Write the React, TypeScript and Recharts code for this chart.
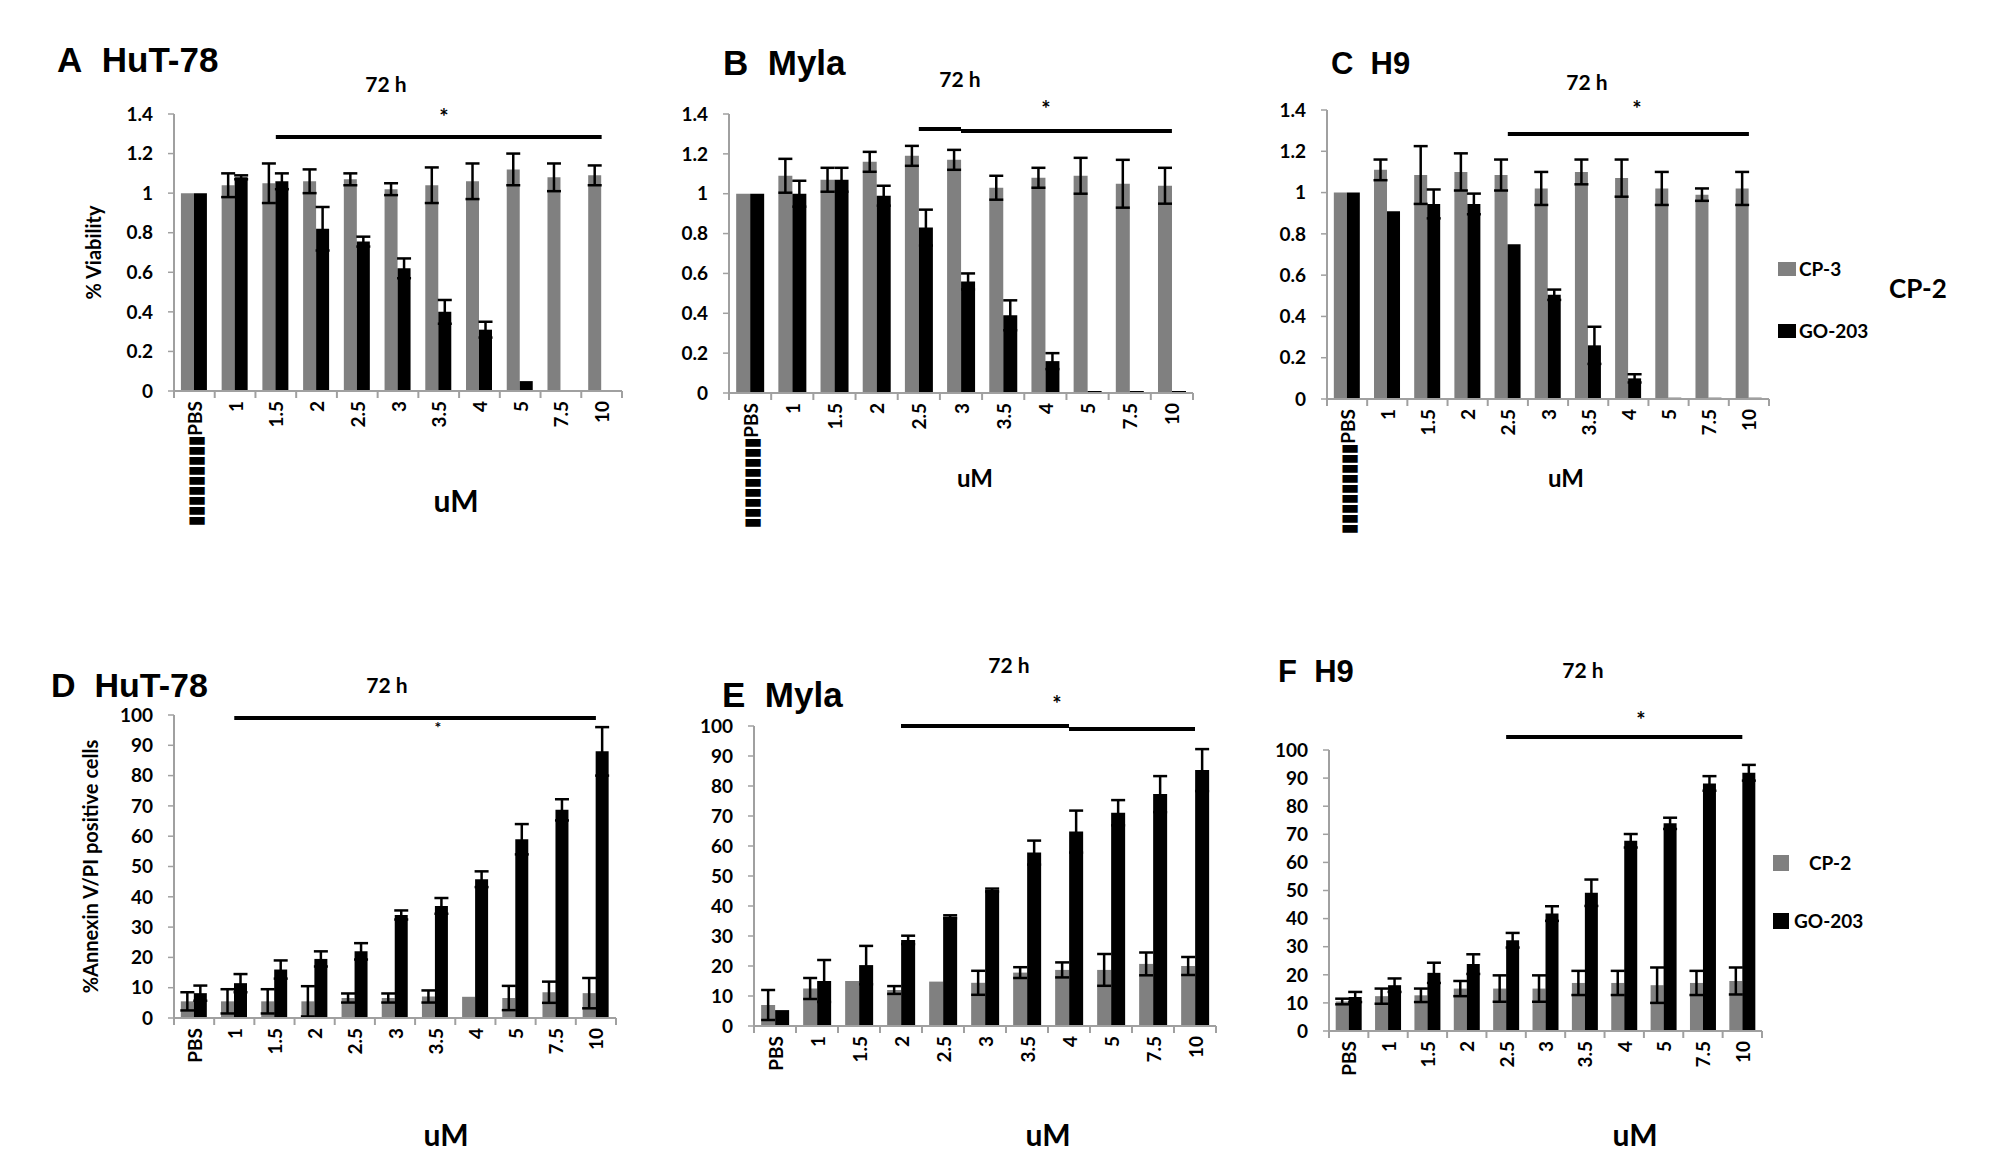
import { BarChart, Bar, XAxis, YAxis, ErrorBar, ReferenceLine, Legend } from 'recharts';

const doses = ['PBS', '1', '1.5', '2', '2.5', '3', '3.5', '4', '5', '7.5', '10'];
const viabilityTicks = [0, 0.2, 0.4, 0.6, 0.8, 1, 1.2, 1.4];
const annexinTicks = [0, 10, 20, 30, 40, 50, 60, 70, 80, 90, 100];

// A  HuT-78 viability
const hutCp = [1.0, 1.04, 1.05, 1.06, 1.07, 1.02, 1.04, 1.06, 1.12, 1.08, 1.09];
const hutCpErr = [null, 0.06, 0.1, 0.06, 0.03, 0.03, 0.09, 0.09, 0.08, 0.07, 0.05];
const hutGo = [1.0, 1.08, 1.06, 0.82, 0.755, 0.62, 0.4, 0.31, 0.05, 0, 0];
const hutGoErr = [null, 0.01, 0.04, 0.11, 0.025, 0.05, 0.06, 0.04, null, null, null];

// B  Myla viability
const mylaCp = [1.0, 1.09, 1.07, 1.16, 1.19, 1.17, 1.03, 1.08, 1.09, 1.05, 1.04];
const mylaCpErr = [null, 0.085, 0.06, 0.05, 0.05, 0.05, 0.06, 0.05, 0.09, 0.12, 0.09];
const mylaGo = [1.0, 1.0, 1.07, 0.99, 0.83, 0.56, 0.39, 0.16, 0.01, 0.01, 0.01];
const mylaGoErr = [null, 0.065, 0.06, 0.05, 0.09, 0.04, 0.075, 0.04, null, null, null];

// C  H9 viability
const h9Cp = [1.0, 1.11, 1.085, 1.1, 1.085, 1.02, 1.1, 1.07, 1.02, 0.99, 1.02];
const h9CpErr = [null, 0.05, 0.14, 0.09, 0.075, 0.08, 0.06, 0.09, 0.08, 0.03, 0.08];
const h9Go = [1.0, 0.91, 0.945, 0.945, 0.75, 0.505, 0.26, 0.1, 0.006, 0.006, 0.006];
const h9GoErr = [null, null, 0.07, 0.05, null, 0.025, 0.09, 0.02, null, null, null];

// D  HuT-78 annexin
const apoHutCp = [5.5, 5.5, 5.5, 5.5, 6.6, 6.6, 7.1, 7.0, 6.6, 8.5, 8.2];
const apoHutCpErr = [3, 4, 4, 5, 1.5, 1.5, 2, null, 4, 3.5, 5];
const apoHutGo = [8.2, 11.5, 16, 19.5, 22, 34, 37, 45.8, 59, 68.7, 88];
const apoHutGoErr = [2.5, 3, 3, 2.5, 2.7, 1.5, 2.6, 2.6, 5, 3.5, 8];

// E  Myla annexin
const apoMylaCp = [7, 12.5, 15, 12, 14.8, 14.4, 17.8, 18.7, 18.7, 20.7, 20];
const apoMylaCpErr = [5, 3.5, null, 1.3, null, 4, 1.8, 2.5, 5.3, 3.8, 3];
const apoMylaGo = [5.3, 15, 20.3, 28.7, 36.4, 45.3, 57.8, 64.8, 71.1, 77.3, 85.3];
const apoMylaGoErr = [null, 7, 6.4, 1.4, 0.5, 0.5, 4, 7, 4.2, 6, 7];

// F  H9 annexin
const apoH9Cp = [10.5, 12.4, 12.7, 15.1, 15.1, 15.1, 17.1, 17.1, 16.3, 17.1, 17.8];
const apoH9CpErr = [1, 2.7, 2.4, 2.7, 4.7, 4.7, 4.3, 4.3, 6.3, 4.3, 4.8];
const apoH9Go = [12.1, 16.3, 20.7, 23.8, 32.3, 41.8, 49.2, 67.7, 73.9, 88.1, 91.9];
const apoH9GoErr = [1.8, 2.4, 3.6, 3.5, 2.6, 2.6, 4.7, 2.4, 2, 2.6, 2.8];

const GRAY = '#808080';
const AXIS = '#a0a0a0';
const FONT = 'Lato, "Liberation Sans", sans-serif';
const TITLE_FONT = '"Liberation Sans", Arial, sans-serif';
const TOFU = '\u25AE'.repeat(9);
const YW = 100;
const TOP = 40;
const XH = 150;

function rows(cp, cpErr, go, goErr) {
  return doses.map((d, i) => ({ dose: d, cp: cp[i], cpErr: cpErr[i], go: go[i], goErr: goErr[i] }));
}

const panels = [
  { id: 'A', left: 174, right: 622, top: 114, bottom: 391, max: 1.4, ticks: viabilityTicks,
    data: rows(hutCp, hutCpErr, hutGo, hutGoErr), cpName: 'CP-3', yLabel: '% Viability', labelDx: -30, tofu: true,
    segments: [{ from: '1.5', to: '10', y: 1.284 }] },
  { id: 'B', left: 729, right: 1193, top: 114, bottom: 393, max: 1.4, ticks: viabilityTicks,
    data: rows(mylaCp, mylaCpErr, mylaGo, mylaGoErr), cpName: 'CP-3', tofu: true,
    segments: [{ from: '2.5', to: '3', y: 1.325 }, { from: '3', to: '10', y: 1.315 }] },
  { id: 'C', left: 1327, right: 1769, top: 110, bottom: 399, max: 1.4, ticks: viabilityTicks,
    data: rows(h9Cp, h9CpErr, h9Go, h9GoErr), cpName: 'CP-3', tofu: true,
    segments: [{ from: '2.5', to: '10', y: 1.284 }],
    legend: { left: 551, top: 192, step: 62, sq: [18, 14], gaps: [3, 3] } },
  { id: 'D', left: 174, right: 616, top: 715, bottom: 1018, max: 100, ticks: annexinTicks,
    data: rows(apoHutCp, apoHutCpErr, apoHutGo, apoHutGoErr), cpName: 'CP-2',
    yLabel: '%Annexin V/PI positive cells', labelDx: -33,
    segments: [{ from: '1', to: '10', y: 99 }] },
  { id: 'E', left: 754, right: 1216, top: 726, bottom: 1026, max: 100, ticks: annexinTicks,
    data: rows(apoMylaCp, apoMylaCpErr, apoMylaGo, apoMylaGoErr), cpName: 'CP-2',
    segments: [{ from: '2', to: '4', y: 100 }, { from: '4', to: '10', y: 99 }] },
  { id: 'F', left: 1329, right: 1762, top: 750, bottom: 1031, max: 100, ticks: annexinTicks,
    data: rows(apoH9Cp, apoH9CpErr, apoH9Go, apoH9GoErr), cpName: 'CP-2',
    segments: [{ from: '2.5', to: '10', y: 104.6 }],
    legend: { left: 544, top: 145, step: 58, sq: [16, 16], gaps: [20, 5] } },
];

// free text on the figure: x, cap top, size
const texts = [
  { t: 'A\u00a0\u00a0HuT-78', x: 57, cap: 49, size: 35, title: true },
  { t: '72 h', x: 386, cap: 77, size: 21, mid: true },
  { t: '*', x: 444, cap: 110, size: 22, mid: true },
  { t: 'uM', x: 456, cap: 490, size: 30, mid: true },
  { t: 'B\u00a0\u00a0Myla', x: 723, cap: 52, size: 35, title: true },
  { t: '72 h', x: 960, cap: 72, size: 21, mid: true },
  { t: '*', x: 1046, cap: 102, size: 22, mid: true },
  { t: 'uM', x: 975, cap: 470, size: 24, mid: true },
  { t: 'C\u00a0\u00a0H9', x: 1331, cap: 54, size: 31, title: true },
  { t: '72 h', x: 1587, cap: 75, size: 21, mid: true },
  { t: '*', x: 1637, cap: 102, size: 22, mid: true },
  { t: 'uM', x: 1566, cap: 470, size: 24, mid: true },
  { t: 'CP-2', x: 1889, cap: 279, size: 26 },
  { t: 'D\u00a0\u00a0HuT-78', x: 51, cap: 674, size: 34, title: true },
  { t: '72 h', x: 387, cap: 678, size: 21, mid: true },
  { t: '*', x: 438, cap: 722, size: 16, mid: true },
  { t: 'uM', x: 446, cap: 1124, size: 30, mid: true },
  { t: 'E\u00a0\u00a0Myla', x: 722, cap: 684, size: 35, title: true },
  { t: '72 h', x: 1009, cap: 658, size: 21, mid: true },
  { t: '*', x: 1057, cap: 697, size: 22, mid: true },
  { t: 'uM', x: 1048, cap: 1124, size: 30, mid: true },
  { t: 'F\u00a0\u00a0H9', x: 1278, cap: 662, size: 31, title: true },
  { t: '72 h', x: 1583, cap: 663, size: 21, mid: true },
  { t: '*', x: 1641, cap: 713, size: 22, mid: true },
  { t: 'uM', x: 1635, cap: 1124, size: 30, mid: true },
];

function DoseTick(props) {
  const { x, y, payload, index, bw, tofu } = props;
  const label = index === 0 && tofu ? TOFU + payload.value : payload.value;
  const ty = y + 10;
  return (
    <g>
      <line x1={x - bw / 2} x2={x - bw / 2} y1={y} y2={y + 7} stroke={AXIS} strokeWidth={2} />
      {index === doses.length - 1 && (
        <line x1={x + bw / 2} x2={x + bw / 2} y1={y} y2={y + 7} stroke={AXIS} strokeWidth={2} />
      )}
      <text
        x={x}
        y={ty}
        transform={`rotate(-90 ${x} ${ty})`}
        textAnchor="end"
        dominantBaseline="central"
        fontFamily={FONT}
        fontWeight={700}
        fontSize={19}
        fill="#000"
      >
        {label}
      </text>
    </g>
  );
}

function legendContent(cfg) {
  return ({ payload }) => (
    <div>
      {(payload || []).map((p, i) => (
        <div
          key={p.value}
          style={{ position: 'absolute', left: 0, top: i * cfg.step, display: 'flex', alignItems: 'center', whiteSpace: 'nowrap' }}
        >
          <span style={{ width: cfg.sq[0], height: cfg.sq[1], background: p.color, display: 'inline-block', marginRight: cfg.gaps[i] }} />
          <span style={{ fontFamily: FONT, fontWeight: 700, fontSize: 19, color: '#000', lineHeight: '14px' }}>{p.value}</span>
        </div>
      ))}
    </div>
  );
}

function Panel({ p }) {
  const plotW = p.right - p.left;
  const plotH = p.bottom - p.top;
  const bw = plotW / doses.length;
  const fmt = (v) => String(Number(v.toFixed(1)));
  return (
    <div style={{ position: 'absolute', left: p.left - YW, top: p.top - TOP }}>
      <BarChart
        width={YW + plotW + 10}
        height={TOP + plotH + XH}
        data={p.data}
        margin={{ top: TOP, right: 10, bottom: 0, left: 0 }}
        barCategoryGap="17%"
        barGap={0}
      >
        <XAxis
          dataKey="dose"
          height={XH}
          interval={0}
          tickSize={0}
          tickMargin={0}
          tickLine={false}
          axisLine={{ stroke: AXIS, strokeWidth: 2 }}
          tick={(tp) => <DoseTick {...tp} bw={bw} tofu={p.tofu} />}
        />
        <YAxis
          type="number"
          domain={[0, p.max]}
          ticks={p.ticks}
          interval={0}
          width={YW}
          tickSize={6}
          tickMargin={15}
          tickFormatter={fmt}
          axisLine={{ stroke: AXIS, strokeWidth: 2 }}
          tickLine={{ stroke: AXIS, strokeWidth: 1.5 }}
          tick={{ fill: '#000', fontSize: 19, fontWeight: 700, fontFamily: FONT }}
          label={
            p.yLabel
              ? { value: p.yLabel, angle: -90, position: 'center', dx: p.labelDx, fill: '#000', fontSize: 20, fontWeight: 700, fontFamily: FONT }
              : undefined
          }
        />
        <Bar dataKey="cp" name={p.cpName} fill={GRAY} isAnimationActive={false}>
          <ErrorBar dataKey="cpErr" width={7} stroke="#000" strokeWidth={2.5} direction="y" />
        </Bar>
        <Bar dataKey="go" name="GO-203" fill="#000" isAnimationActive={false}>
          <ErrorBar dataKey="goErr" width={7} stroke="#000" strokeWidth={2.5} direction="y" />
        </Bar>
        {p.segments.map((s, i) => (
          <ReferenceLine
            key={i}
            segment={[{ x: s.from, y: s.y }, { x: s.to, y: s.y }]}
            stroke="#000"
            strokeWidth={4}
            ifOverflow="visible"
          />
        ))}
        {p.legend && (
          <Legend
            layout="vertical"
            align="center"
            verticalAlign="middle"
            wrapperStyle={{ left: p.legend.left, top: p.legend.top, width: 200, height: 90 }}
            content={legendContent(p.legend)}
          />
        )}
      </BarChart>
    </div>
  );
}

export default function App() {
  return (
    <div style={{ position: 'absolute', left: 0, top: 0, width: 2003, height: 1152, background: '#fff', overflow: 'hidden' }}>
      {panels.map((p) => (
        <Panel key={p.id} p={p} />
      ))}
      {texts.map((t, i) => {
        const k = t.title ? 0.13 : 0.17;
        return (
          <div
            key={i}
            style={{
              position: 'absolute',
              left: t.x,
              top: t.cap - k * t.size,
              transform: t.mid ? 'translateX(-50%)' : undefined,
              fontFamily: t.title ? TITLE_FONT : FONT,
              fontWeight: 700,
              fontSize: t.size,
              lineHeight: t.title ? 0.9 : 1,
              whiteSpace: 'nowrap',
              color: '#000',
            }}
          >
            {t.t}
          </div>
        );
      })}
    </div>
  );
}
